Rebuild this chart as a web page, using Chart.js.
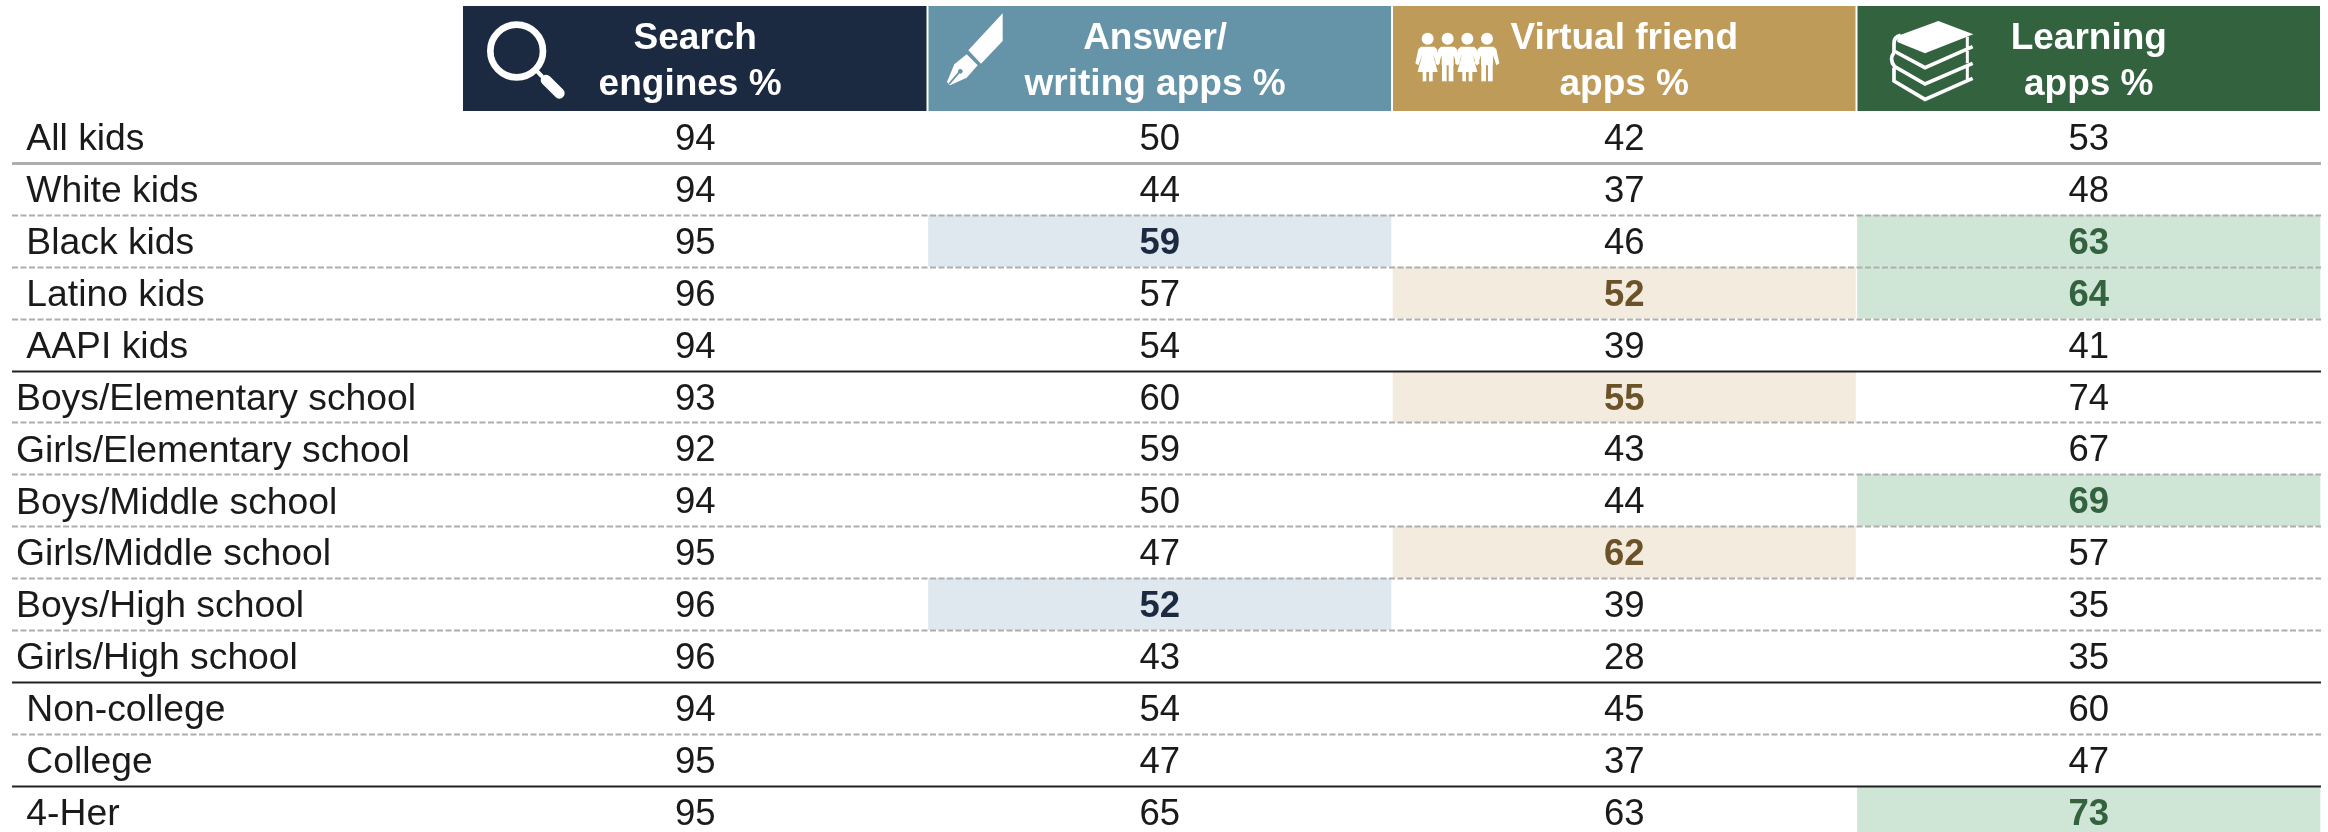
<!DOCTYPE html>
<html>
<head>
<meta charset="utf-8">
<style>
html,body{margin:0;padding:0;background:#fff;overflow:hidden;width:2328px;height:832px}
#wrap{width:2328px;height:840px;position:absolute;left:0;top:0}
canvas{display:block}
</style>
<script src="https://cdn.jsdelivr.net/npm/chart.js@4/dist/chart.umd.min.js"></script>
</head>
<body>
<div id="wrap"><canvas id="c" width="2328" height="840" style="width:2328px;height:840px"></canvas></div>
<script>
const rowLabels = [" All kids"," White kids"," Black kids"," Latino kids"," AAPI kids",
  "Boys/Elementary school","Girls/Elementary school","Boys/Middle school","Girls/Middle school",
  "Boys/High school","Girls/High school"," Non-college"," College"," 4-Her"];
const columnLabels = [["Search","engines % "],["Answer/","writing apps %"],["Virtual friend","apps %"],["Learning","apps %"]];
const searchEngines = [94,94,95,96,94,93,92,94,95,96,96,94,95,95];
const answerApps    = [50,44,59,57,54,60,59,50,47,52,43,54,47,65];
const friendApps    = [42,37,46,52,39,55,43,44,62,39,28,45,37,63];
const learningApps  = [53,48,63,64,41,74,67,69,57,35,35,60,47,73];
const searchHighlights   = [];
const answerHighlights   = [2,9];
const friendHighlights   = [3,5,8];
const learningHighlights = [2,3,7,13];
const thickRows = [0];
const solidRows = [4,10,12];

const columns = [
  {values:searchEngines,hi:searchHighlights,head:'#1B2A41',fill:'#DFE8EE',ink:'#1B2A41'},
  {values:answerApps,hi:answerHighlights,head:'#6593A8',fill:'#DFE8EE',ink:'#1B2A41'},
  {values:friendApps,hi:friendHighlights,head:'#BF9B5A',fill:'#F2EBDE',ink:'#6B5228'},
  {values:learningApps,hi:learningHighlights,head:'#33623F',fill:'#CFE5D5',ink:'#33623F'}
];
const FONT = '"Liberation Sans", Arial, sans-serif';
const TEXT_DROP = 3;

function icon(ctx, ox, oy, draw){ ctx.save(); ctx.translate(ox,oy); ctx.scale(1/3,1/3); ctx.fillStyle='#fff'; ctx.strokeStyle='#fff'; ctx.lineCap='round'; ctx.lineJoin='round'; draw(ctx); ctx.restore(); }
function poly(ctx, pts){ ctx.beginPath(); pts.forEach((p,i)=> i?ctx.lineTo(p[0],p[1]):ctx.moveTo(p[0],p[1])); ctx.closePath(); ctx.fill(); }
function line(ctx, pts, w){ ctx.lineWidth=w; ctx.beginPath(); pts.forEach((p,i)=> i?ctx.lineTo(p[0],p[1]):ctx.moveTo(p[0],p[1])); ctx.stroke(); }

function magnifier(c){
  c.lineWidth=20; c.beginPath(); c.arc(140,135,79,0,Math.PI*2); c.stroke();
  line(c,[[196,190],[215,210]],12);
  line(c,[[228,222],[268,262]],32);
}
function pen(c){
  poly(c,[[203,22],[203,105],[138,173],[100,133]]);
  poly(c,[[95,145],[128,178],[95,215],[45,238],[36,228],[58,175]]);
  c.strokeStyle='#6593A8'; line(c,[[44,232],[74,197]],5);
  c.fillStyle='#6593A8'; c.beginPath(); c.arc(76,196,7,0,Math.PI*2); c.fill();
}
function girl(c,x){
  c.beginPath(); c.arc(x,38,18,0,Math.PI*2); c.fill();
  poly(c,[[x-20,62],[x+20,62],[x+28,70],[x+37,112],[x+28,118],[x+16,85],[x+30,138],[x-30,138],[x-16,85],[x-28,118],[x-37,112],[x-28,70]]);
  c.fillRect(x-15,136,11,30); c.fillRect(x+4,136,11,30);
}
function boy(c,x){
  c.beginPath(); c.arc(x,38,18,0,Math.PI*2); c.fill();
  poly(c,[[x-20,62],[x+20,62],[x+28,70],[x+37,112],[x+28,118],[x+18,88],[x+18,118],[x-18,118],[x-18,88],[x-28,118],[x-37,112],[x-28,70]]);
  c.fillRect(x-17,116,14,50); c.fillRect(x+3,116,14,50);
}
function kids(c){ girl(c,68); boy(c,128); girl(c,187); boy(c,246); }
function books(c){
  poly(c,[[52,90],[175,45],[280,85],[135,142],[52,108]]);
  c.lineWidth=11; c.lineJoin='miter'; c.lineCap='butt';
  c.beginPath(); c.moveTo(62,88); c.quadraticCurveTo(42,92,42,112); c.lineTo(42,135); c.lineTo(135,185); c.lineTo(278,122); c.stroke();
  c.beginPath(); c.moveTo(42,140); c.quadraticCurveTo(26,160,44,182); c.lineTo(135,234); c.lineTo(278,172); c.stroke();
  c.beginPath(); c.moveTo(42,185); c.lineTo(42,225); c.lineTo(135,280); c.lineTo(278,217); c.stroke();
  c.lineWidth=9;
  c.beginPath(); c.moveTo(262,92); c.lineTo(262,125); c.moveTo(262,135); c.lineTo(262,172); c.moveTo(262,180); c.lineTo(262,222); c.stroke();
}

const tablePlugin = {
  id:'tablePlugin',
  beforeDraw(chart){
    const ctx=chart.ctx, x=chart.scales.x, top=6, bottom=111;
    columns.forEach((col,i)=>{
      const l=x.getPixelForValue(i), r=x.getPixelForValue(i+1);
      ctx.fillStyle=col.head;
      ctx.fillRect(l+(i?1:0),top,r-l-(i?1:0)-1,bottom-top);
    });
  },
  afterDatasetsDraw(chart){
    const ctx=chart.ctx, x=chart.scales.x, y=chart.scales.y;
    const half=(y.getPixelForTick(1)-y.getPixelForTick(0))/2;
    ctx.save();
    rowLabels.forEach((_,i)=>{
      if(i===rowLabels.length-1) return;
      const py=Math.round(y.getPixelForTick(i)+half)+0.5;
      ctx.beginPath(); ctx.moveTo(12,py); ctx.lineTo(2321,py);
      if(thickRows.includes(i)){ctx.setLineDash([]);ctx.strokeStyle='#AEAEAE';ctx.lineWidth=3;}
      else if(solidRows.includes(i)){ctx.setLineDash([]);ctx.strokeStyle='#222';ctx.lineWidth=2;}
      else {ctx.setLineDash([6,2.5]);ctx.strokeStyle='#AEAEAE';ctx.lineWidth=2;}
      ctx.stroke();
    });
    ctx.setLineDash([]);
    ctx.textAlign='center'; ctx.textBaseline='middle';
    columns.forEach((col,ci)=>{
      col.values.forEach((v,ri)=>{
        const hi=col.hi.includes(ri);
        ctx.font=(hi?'bold ':'')+'36.5px '+FONT;
        ctx.fillStyle=hi?col.ink:'#1A1A1A';
        ctx.fillText(String(v),x.getPixelForValue(ci+0.5),y.getPixelForTick(ri)+TEXT_DROP);
      });
    });
    ctx.restore();
  },
  afterDraw(chart){
    const ctx=chart.ctx;
    icon(ctx,470,6,magnifier);
    icon(ctx,935,6,pen);
    icon(ctx,1405,26,kids);
    icon(ctx,1880,6,books);
  }
};

new Chart(document.getElementById('c').getContext('2d'),{
  type:'bar',
  data:{
    labels:rowLabels,
    datasets:columns.map((col,i)=>({
      label:columnLabels[i].join(' '),
      data:col.values.map(()=>1),
      stack:'table',
      backgroundColor:(ctx)=>col.hi.includes(ctx.dataIndex)?col.fill:'rgba(0,0,0,0)',
      borderColor:'#fff',
      borderWidth:{left:1,right:1,top:0,bottom:0},
      borderSkipped:false,
      barPercentage:1,
      categoryPercentage:1
    }))
  },
  options:{
    indexAxis:'y',
    responsive:false,
    maintainAspectRatio:false,
    animation:false,
    events:[],
    layout:{padding:{left:16,right:7,top:0,bottom:2.4}},
    plugins:{legend:{display:false},title:{display:false},tooltip:{enabled:false}},
    scales:{
      x:{
        type:'linear',position:'top',stacked:true,min:0,max:4,
        grid:{display:false,drawTicks:false},border:{display:false},
        afterFit(s){s.height=111;},
        afterBuildTicks(s){s.ticks=[0.5,1.49,2.5,3.5].map(v=>({value:v}));},
        ticks:{
          autoSkip:false,maxRotation:0,minRotation:0,padding:4,color:'#fff',
          font:{family:FONT,size:37,weight:'bold',lineHeight:1.22},
          callback(v,i){return columnLabels[i];}
        }
      },
      y:{
        type:'category',stacked:true,
        grid:{display:false,drawTicks:false},border:{display:false},
        afterFit(s){
          s.width=447;s.paddingTop=0;s.paddingBottom=0;
          if(!s._dropped){
            const compute=s._computeLabelItems.bind(s);
            s._computeLabelItems=(area)=>{
              const items=compute(area);
              items.forEach(it=>{it.options.translation=[it.options.translation[0],it.options.translation[1]+TEXT_DROP];});
              return items;
            };
            s._dropped=true;
          }
        },
        ticks:{
          autoSkip:false,crossAlign:'far',padding:0,color:'#1A1A1A',
          font:{family:FONT,size:37.3}
        }
      }
    }
  },
  plugins:[tablePlugin]
});
</script>
</body>
</html>
